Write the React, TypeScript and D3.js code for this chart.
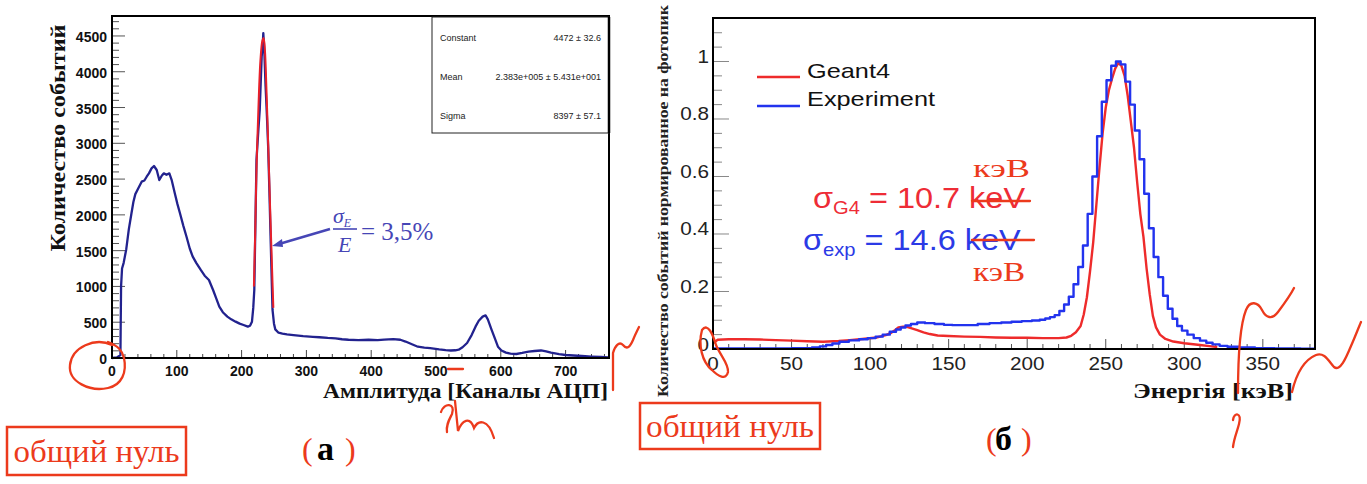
import React from 'react';
import * as d3 from 'd3';

// ---------- Left panel (a): amplitude spectrum, ADC channels ----------
const leftChannels = [0, 8, 13, 14, 15.5, 18, 22, 26, 30, 33, 36, 40.6, 45.8, 50, 53.5, 57, 61, 64.8, 69, 73, 77, 80, 84, 88.5, 92, 97, 101, 105, 110, 115, 120, 124.4, 130, 137, 143, 149.6, 156, 161, 165.6, 171, 178, 184, 190.7, 197, 203, 209.6, 213, 216, 218, 219.6, 221, 223, 226, 228, 231, 232.5, 233.5, 235, 237, 239, 241, 243, 245, 247.7, 250, 252, 257, 263, 270, 280, 295, 310, 320, 333, 345, 355, 365, 380, 396, 410, 420, 434, 445, 453, 462, 472, 482, 491, 505, 515, 523, 530, 535, 541, 548, 555, 561, 566, 572, 576.5, 580, 586, 591, 595.6, 601, 608, 615, 624, 633, 643, 652, 662, 670, 677.5, 690, 700, 712, 725, 740, 755, 766];
const leftCounts = [0, 10, 40, 1000, 1250, 1330, 1520, 1800, 2020, 2180, 2290, 2371, 2464, 2480, 2533, 2580, 2650, 2683, 2627, 2487, 2550, 2580, 2560, 2580, 2490, 2300, 2150, 2020, 1850, 1695, 1530, 1420, 1330, 1230, 1150, 1090, 950, 830, 718, 640, 578, 540, 508, 480, 461, 438, 450, 508, 700, 950, 1700, 2770, 3200, 3465, 4210, 4350, 4540, 4300, 3800, 3400, 2950, 2300, 1600, 675, 480, 400, 353, 340, 330, 320, 305, 295, 290, 280, 275, 262, 255, 250, 255, 250, 258, 265, 255, 230, 195, 158, 145, 137, 120, 110, 105, 108, 116, 150, 210, 320, 438, 520, 578, 595, 540, 391, 270, 158, 105, 75, 62, 56, 70, 88, 98, 105, 92, 75, 55, 42, 35, 28, 20, 14, 9];
const fitChannels = [219, 221, 223, 226, 229, 232, 234, 236, 238, 241, 244, 247, 249];
const fitCounts = [1000, 1750, 2650, 3500, 4150, 4430, 4470, 4300, 3850, 3000, 2100, 1250, 700];
const leftXTicks = [0, 100, 200, 300, 400, 500, 600, 700];
const leftYTicks = [0, 500, 1000, 1500, 2000, 2500, 3000, 3500, 4000, 4500];
const statsNames = ['Constant', 'Mean', 'Sigma'];
const statsValues = ['4472 \u00b1 32.6', '2.383e+005 \u00b1 5.431e+001', '8397 \u00b1 57.1'];

// ---------- Right panel (б): normalised energy spectra ----------
const expEnergy = [0, 20, 40, 60, 66, 70, 74, 78, 83, 90, 96, 101, 106, 110, 115, 118, 121, 124, 128, 132, 138, 144, 150, 155, 160, 165, 172, 180, 187, 193, 200, 206, 210, 213, 216, 219, 222, 225, 228, 231, 234, 237, 240, 243, 246, 249, 252, 255, 258, 261, 264, 267, 270, 273, 276, 279, 282, 285, 288, 291, 294, 297, 300, 304, 308, 312, 316, 320, 325, 330, 340, 350, 365, 383];
const expValue = [0.002, 0.002, 0.002, 0.003, 0.005, 0.009, 0.014, 0.019, 0.025, 0.03, 0.034, 0.038, 0.043, 0.05, 0.06, 0.068, 0.075, 0.082, 0.087, 0.092, 0.09, 0.087, 0.084, 0.083, 0.083, 0.083, 0.087, 0.09, 0.092, 0.095, 0.097, 0.099, 0.102, 0.106, 0.111, 0.118, 0.132, 0.155, 0.182, 0.225, 0.285, 0.36, 0.47, 0.6, 0.74, 0.86, 0.935, 0.985, 1.0, 0.99, 0.93, 0.85, 0.76, 0.66, 0.54, 0.42, 0.32, 0.25, 0.185, 0.14, 0.105, 0.08, 0.064, 0.05, 0.038, 0.029, 0.022, 0.016, 0.011, 0.008, 0.005, 0.003, 0.002, 0.001];
const g4Energy = [0, 3, 10, 20, 30, 40, 50, 60, 70, 80, 87, 95, 104, 110, 113, 116, 118, 121, 124, 127, 130, 134, 138, 143, 150, 160, 170, 180, 190, 200, 210, 220, 225, 228, 231, 234, 236, 238, 240, 242, 244, 246, 248, 250, 252, 254, 256, 258, 260, 262, 264, 266, 268, 270, 272, 274, 276, 278, 280, 282, 284.5, 288, 293, 300, 310, 316, 321];
const g4Value = [0.02, 0.032, 0.034, 0.034, 0.033, 0.031, 0.029, 0.027, 0.025, 0.028, 0.031, 0.035, 0.04, 0.048, 0.055, 0.066, 0.075, 0.078, 0.076, 0.071, 0.066, 0.058, 0.052, 0.047, 0.045, 0.043, 0.042, 0.04, 0.039, 0.039, 0.038, 0.038, 0.04, 0.046, 0.058, 0.08, 0.12, 0.18, 0.27, 0.37, 0.5, 0.63, 0.75, 0.84, 0.9, 0.94, 0.975, 0.995, 0.985, 0.95, 0.88, 0.79, 0.7, 0.58, 0.47, 0.39, 0.28, 0.19, 0.115, 0.075, 0.05, 0.035, 0.026, 0.02, 0.014, 0.01, 0.007];
const rightXTicks = [0, 50, 100, 150, 200, 250, 300, 350];
const rightYTicks = [0, 0.2, 0.4, 0.6, 0.8, 1];
const legendLabels = ['Geant4', 'Experiment'];

const RED_INK = '#ec3a1c';

export default function App() {
  // left scales
  const xL = d3.scaleLinear().domain([0, 767]).range([112, 609]);
  const yL = d3.scaleLinear().domain([0, 4779]).range([358, 16]);
  // right scales
  const xR = d3.scaleLinear().domain([0, 383.2]).range([713, 1315]);
  const yR = d3.scaleLinear().domain([0, 1.1513]).range([349, 18]);

  const leftLine = d3.line<number>().x((d, i) => xL(leftChannels[i])).y(d => yL(d))(leftCounts) || '';
  const fitLine = d3.line<number>().x((d, i) => xL(fitChannels[i])).y(d => yL(d)).curve(d3.curveCatmullRom)(fitCounts) || '';
  const expLine = d3.line<number>().x((d, i) => xR(expEnergy[i])).y(d => yR(d)).curve(d3.curveStep)(expValue) || '';
  const g4Line = d3.line<number>().x((d, i) => xR(g4Energy[i])).y(d => yR(d))(g4Value) || '';

  const lxMinor = d3.range(0, 767, 20);
  const lyMinor = d3.range(0, 4779, 100);
  const rxMinor = d3.range(0, 383, 10);
  const ryMinor = d3.range(0, 1.15, 0.05);

  const sans = "'Liberation Sans', Arial, sans-serif";
  const serif = "'Liberation Serif', 'Times New Roman', serif";

  return (
    <svg width={1367} height={484} style={{ position: 'absolute', left: 0, top: 0, background: '#fff' }}>
      <rect x={0} y={0} width={1367} height={484} fill="#fff" />
      {/* ================= LEFT PANEL ================= */}
      <g>
        {lxMinor.map(v => (
          <line key={'lxm' + v} x1={xL(v)} x2={xL(v)} y1={358} y2={358 - (v % 100 === 0 ? 8 : 4)} stroke="#444" strokeWidth={1} />
        ))}
        {lyMinor.map(v => (
          <line key={'lym' + v} x1={112} x2={112 + (v % 500 === 0 ? 13 : 7)} y1={yL(v)} y2={yL(v)} stroke="#555" strokeWidth={1} />
        ))}
        <path d={leftLine} fill="none" stroke="#22228e" strokeWidth={2.3} strokeLinejoin="round" />
        <path d={fitLine} fill="none" stroke="#e8202a" strokeWidth={2} />
        <rect x={112} y={16} width={497} height={342} fill="none" stroke="#000" strokeWidth={2} />
        {/* stats box */}
        <rect x={432} y={17} width={177} height={116} fill="#fff" stroke="#222" strokeWidth={1} />
        <line x1={609} y1={17} x2={609} y2={133} stroke="#000" strokeWidth={2.5} />
        {statsNames.map((n, i) => (
          <g key={n}>
            <text x={440} y={41 + i * 39} fontFamily={sans} fontSize={9} fill="#222">{n}</text>
            <text x={601} y={41 + i * 39} fontFamily={sans} fontSize={9} fill="#222" textAnchor="end">{statsValues[i]}</text>
          </g>
        ))}
        {leftYTicks.map(v => (
          <text key={'lyt' + v} x={107} y={yL(v) + 6} textAnchor="end" fontFamily={sans} fontWeight="bold" fontSize={14} fill="#111">{v}</text>
        ))}
        {leftXTicks.map(v => (
          <text key={'lxt' + v} x={xL(v)} y={376} textAnchor="middle" fontFamily={sans} fontWeight="bold" fontSize={14} fill="#111">{v}</text>
        ))}
        <text transform="translate(65,138) rotate(-90)" textAnchor="middle" fontFamily={serif} fontWeight="bold" fontSize={20} textLength={227} lengthAdjust="spacingAndGlyphs" fill="#111">Количество событий</text>
        <text x={608} y={398} textAnchor="end" fontFamily={serif} fontWeight="bold" fontSize={22} textLength={285} lengthAdjust="spacingAndGlyphs" fill="#111">Амплитуда [Каналы АЦП]</text>
        {/* resolution annotation */}
        <g fill="#4646b6" stroke="none">
          <line x1={330} y1={229} x2={279} y2={244} stroke="#4646b6" strokeWidth={2.5} />
          <path d="M272,246 L282,239 L283,247 Z" />
          <text x={333} y={223} fontFamily={serif} fontStyle="italic" fontSize={22}>σ<tspan fontSize={12} dy={4}>E</tspan></text>
          <line x1={333} y1={229} x2={357} y2={229} stroke="#4646b6" strokeWidth={1.6} />
          <text x={338} y={252} fontFamily={serif} fontStyle="italic" fontSize={22}>E</text>
          <text x={361} y={240} fontFamily={serif} fontSize={25}>= 3,5%</text>
        </g>
      </g>

      {/* ================= RIGHT PANEL ================= */}
      <g>
        {rxMinor.map(v => (
          <line key={'rxm' + v} x1={xR(v)} x2={xR(v)} y1={349} y2={349 - (v % 50 === 0 ? 10 : 5)} stroke="#555" strokeWidth={1} />
        ))}
        {ryMinor.map((v, i) => (
          <line key={'rym' + i} x1={713} x2={713 + (i % 4 === 0 ? 16 : 9)} y1={yR(v)} y2={yR(v)} stroke="#888" strokeWidth={1} />
        ))}
        <path d={g4Line} fill="none" stroke="#ee2b2b" strokeWidth={2.4} strokeLinejoin="round" />
        <path d={expLine} fill="none" stroke="#2233ee" strokeWidth={2.4} strokeLinejoin="round" />
        <rect x={713} y={18} width={602} height={331} fill="none" stroke="#000" strokeWidth={2} />
        {rightYTicks.map(v => (
          <text key={'ryt' + v} transform={`translate(709,${yR(v) + 1.5}) scale(1.15,1)`} textAnchor="end" fontFamily={sans} fontSize={18} fill="#222">{v === 1 ? '1' : v === 0 ? '0' : v.toFixed(1)}</text>
        ))}
        {rightXTicks.map(v => (
          <text key={'rxt' + v} transform={`translate(${xR(v)},370) scale(1.15,1)`} textAnchor="middle" fontFamily={sans} fontSize={18} fill="#222">{v}</text>
        ))}
        <text transform="translate(668,201) rotate(-90)" textAnchor="middle" fontFamily={serif} fontWeight="bold" fontSize={15} textLength={392} lengthAdjust="spacingAndGlyphs" fill="#222">Количество событий нормированное на фотопик</text>
        <text x={1293} y={398} textAnchor="end" fontFamily={serif} fontWeight="bold" fontSize={22} textLength={160} lengthAdjust="spacingAndGlyphs" fill="#111">Энергія [кэВ]</text>
        {/* legend */}
        <line x1={757} x2={800} y1={77} y2={77} stroke="#ee2b2b" strokeWidth={2.5} />
        <text x={807} y={78} fontFamily={sans} fontSize={21} textLength={83} lengthAdjust="spacingAndGlyphs" fill="#111">{legendLabels[0]}</text>
        <line x1={757} x2={800} y1={106} y2={106} stroke="#2233ee" strokeWidth={2.5} />
        <text x={807} y={106} fontFamily={sans} fontSize={21} textLength={128} lengthAdjust="spacingAndGlyphs" fill="#111">{legendLabels[1]}</text>
        {/* sigma texts */}
        <text transform="translate(813,208) scale(1.12,1)" fontFamily={sans} fontSize={29} fill="#ee2c36">σ<tspan fontSize={18} dy={6}>G4</tspan><tspan dy={-6}> = 10.7 keV</tspan></text>
        <text transform="translate(803,250) scale(1.12,1)" fontFamily={sans} fontSize={29} fill="#2b3ae6">σ<tspan fontSize={18} dy={6}>exp</tspan><tspan dy={-6}> = 14.6 keV</tspan></text>
      </g>

      {/* ================= HAND ANNOTATIONS ================= */}
      <g stroke={RED_INK} strokeWidth={2.3} fill="none" strokeLinecap="round">
        <line x1={972} y1={201} x2={1030} y2={201} />
        <line x1={972} y1={240} x2={1034} y2={240} />
        <path d="M112,345 C95,337 72,347 70,365 C68,382 90,392 108,388 C122,385 127,372 124,358 C122,350 118,346 108,342" />
        <path d="M702,330 C698,345 702,362 712,370 C718,376 726,381 728,372 C729,364 720,355 716,345 C713,335 708,322 702,330" />
        <path d="M613,390 L613,353 C615,346 619,341 623,345 C627,350 630,347 633,340 C635,335 637,331 639,327" />
        <line x1={448} y1={369} x2={463} y2={369} />
        <path d="M441,412 C444,402 456,403 452,414 C449,420 446,425 447,432 M455,401 L458,431 C462,420 470,416 474,428 C478,420 488,418 494,438" />
        <path d="M1238,393 C1238,360 1240,325 1246,310 C1250,300 1258,302 1262,310 C1266,318 1272,320 1278,312 C1284,304 1290,296 1294,288" />
        <path d="M1233,420 C1234,412 1242,412 1239,424 C1237,432 1234,438 1233,447" />
        <path d="M1292,392 C1296,375 1304,360 1316,355 C1324,352 1328,360 1334,367 C1340,372 1346,358 1351,346 C1355,337 1358,329 1361,322" />
      </g>
      <g fill={RED_INK} fontFamily={serif}>
        <text x={973} y={177} fontSize={26} textLength={57} lengthAdjust="spacingAndGlyphs">кэВ</text>
        <text x={973} y={281} fontSize={27} textLength={52} lengthAdjust="spacingAndGlyphs">кэВ</text>
      </g>
      <rect x={7} y={427} width={179} height={48} fill="none" stroke={RED_INK} strokeWidth={2.5} />
      <text x={96.5} y={462} textAnchor="middle" fontFamily={serif} fontSize={31} textLength={166} lengthAdjust="spacingAndGlyphs" fill={RED_INK}>общий нуль</text>
      <rect x={640} y={403} width={180} height={46} fill="none" stroke={RED_INK} strokeWidth={2.5} />
      <text x={730} y={437} textAnchor="middle" fontFamily={serif} fontSize={31} textLength={168} lengthAdjust="spacingAndGlyphs" fill={RED_INK}>общий нуль</text>
      <text x={302} y={460} fontFamily={serif} fontSize={32} fill={RED_INK}>(</text>
      <text x={317} y={460} fontFamily={serif} fontSize={34} fontWeight="bold" fill="#000">а</text>
      <text x={345} y={460} fontFamily={serif} fontSize={32} fill={RED_INK}>)</text>
      <text x={986} y={450} fontFamily={serif} fontSize={32} fill={RED_INK}>(</text>
      <text x={995} y={450} fontFamily={serif} fontSize={34} fontWeight="bold" fill="#000">б</text>
      <text x={1021} y={450} fontFamily={serif} fontSize={32} fill={RED_INK}>)</text>
    </svg>
  );
}
